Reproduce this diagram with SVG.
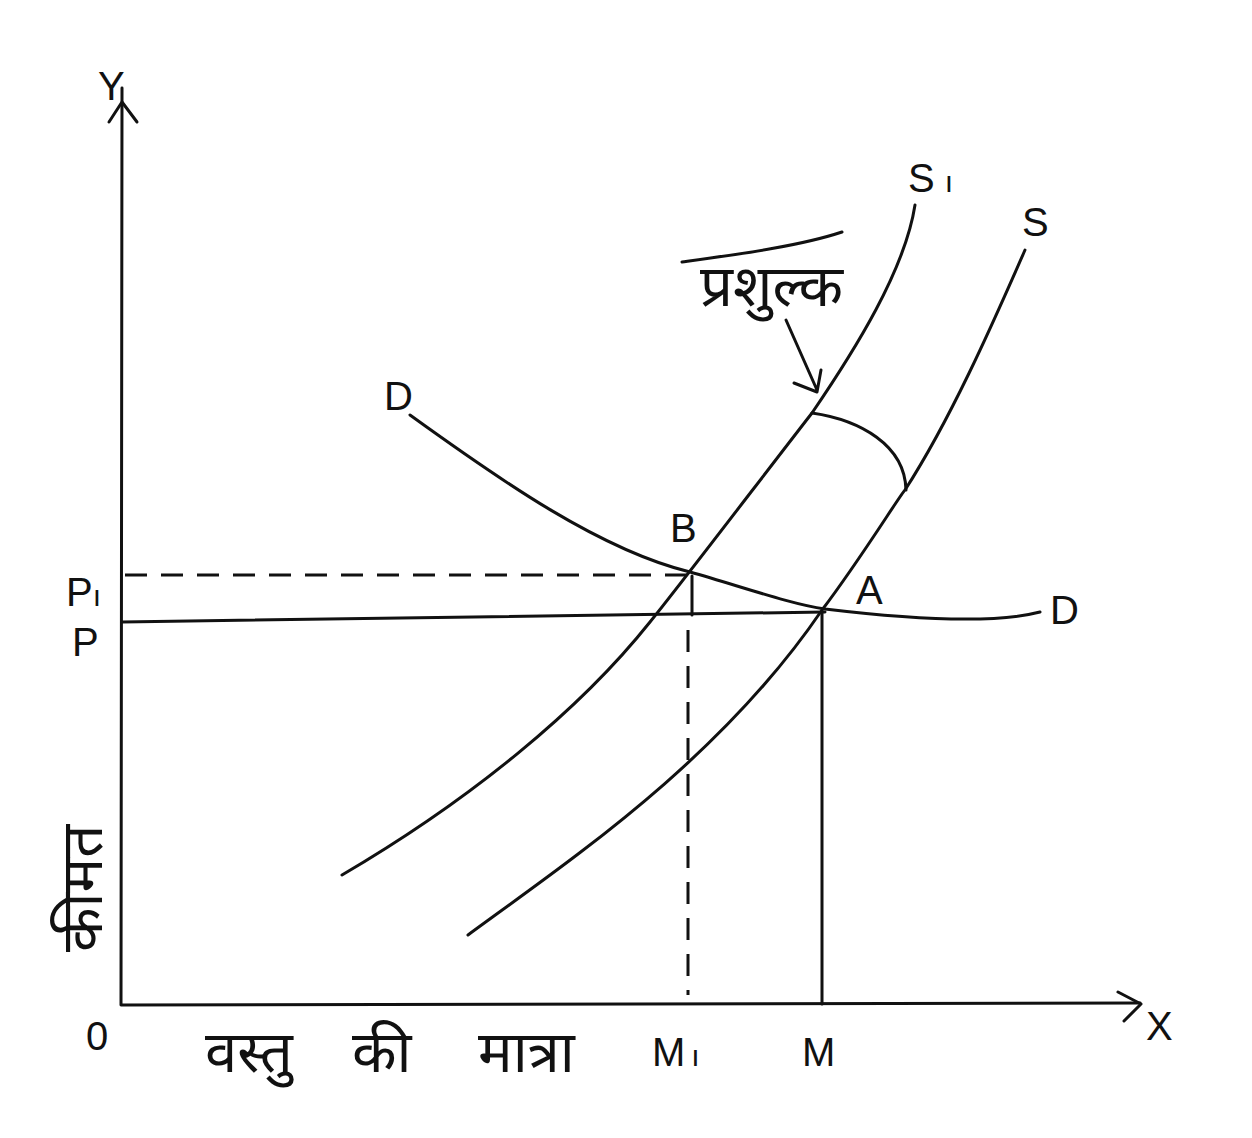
<svg xmlns="http://www.w3.org/2000/svg" width="1252" height="1138" viewBox="0 0 1252 1138">
<style>
.ln{fill:none;stroke:#111;stroke-width:3;stroke-linecap:round;stroke-linejoin:round}
.dash{fill:none;stroke:#111;stroke-width:3;stroke-dasharray:22 14}
.lbl{font-family:"Liberation Sans","DejaVu Sans",sans-serif;font-size:40px;fill:#111}
.hi{font-family:"Noto Sans Devanagari","Noto Sans","DejaVu Sans",sans-serif;font-size:58px;fill:#111}
</style>
<rect width="1252" height="1138" fill="#fff"/>
<g id="axes">
<path class="ln" d="M122,88 L121,1005 L1140,1003"/>
<path class="ln" d="M109,122 L122,102 L137,122"/>
<path class="ln" d="M1118,992 L1141,1004 L1124,1021"/>
</g>
<g id="curves">
<path id="D" class="ln" d="M410,415 C500,480 600,550 690,572 C740,586 790,604 825,609 C900,618 990,625 1040,612"/>
<path id="S1" class="ln" d="M342,875 C470,800 580,710 650,622 C680,585 760,480 812,413 C855,350 905,270 915,205"/>
<path id="S" class="ln" d="M468,935 C570,860 720,760 822,610 C860,560 900,495 905,490 C950,420 990,330 1025,250"/>
<path id="tariffArc" class="ln" d="M812,413 C860,420 905,445 906,490"/>
</g>
<g id="guides">
<line class="dash" x1="125" y1="575" x2="690" y2="575"/>
<path class="ln" d="M122,622 L825,612"/>
<line class="ln" x1="692" y1="576" x2="692" y2="615"/>
<line class="dash" x1="688" y1="630" x2="688" y2="995"/>
<line class="ln" x1="822" y1="612" x2="822" y2="1004"/>
</g>
<g id="tariff">
<path class="ln" d="M682,262 C740,254 800,246 842,232"/>
<path class="ln" d="M786,320 L817,390 M794,383 L817,392 L821,370"/>
<text class="hi" x="700" y="306" font-size="56">प्रशुल्क</text>
</g>
<g id="labels">
<text class="lbl" x="98" y="100">Y</text>
<text class="lbl" x="1146" y="1040">X</text>
<text class="lbl" x="86" y="1050" font-size="30">0</text>
<text class="lbl" x="66" y="606">P<tspan font-size="30">ı</tspan></text>
<text class="lbl" x="72" y="656">P</text>
<text class="lbl" x="670" y="542">B</text>
<text class="lbl" x="856" y="604">A</text>
<text class="lbl" x="384" y="410">D</text>
<text class="lbl" x="1050" y="624">D</text>
<text class="lbl" x="908" y="192">S<tspan font-size="30" dx="10">ı</tspan></text>
<text class="lbl" x="1022" y="236">S</text>
<text class="lbl" x="652" y="1066">M<tspan font-size="30" dx="6">ı</tspan></text>
<text class="lbl" x="802" y="1066">M</text>
<text class="hi" y="1072" font-size="62"><tspan x="205">वस्तु</tspan><tspan x="352">की</tspan><tspan x="478">मात्रा</tspan></text>
<text class="hi" transform="translate(102,952) rotate(-90)" font-size="66">कीमत</text>
</g>
</svg>
